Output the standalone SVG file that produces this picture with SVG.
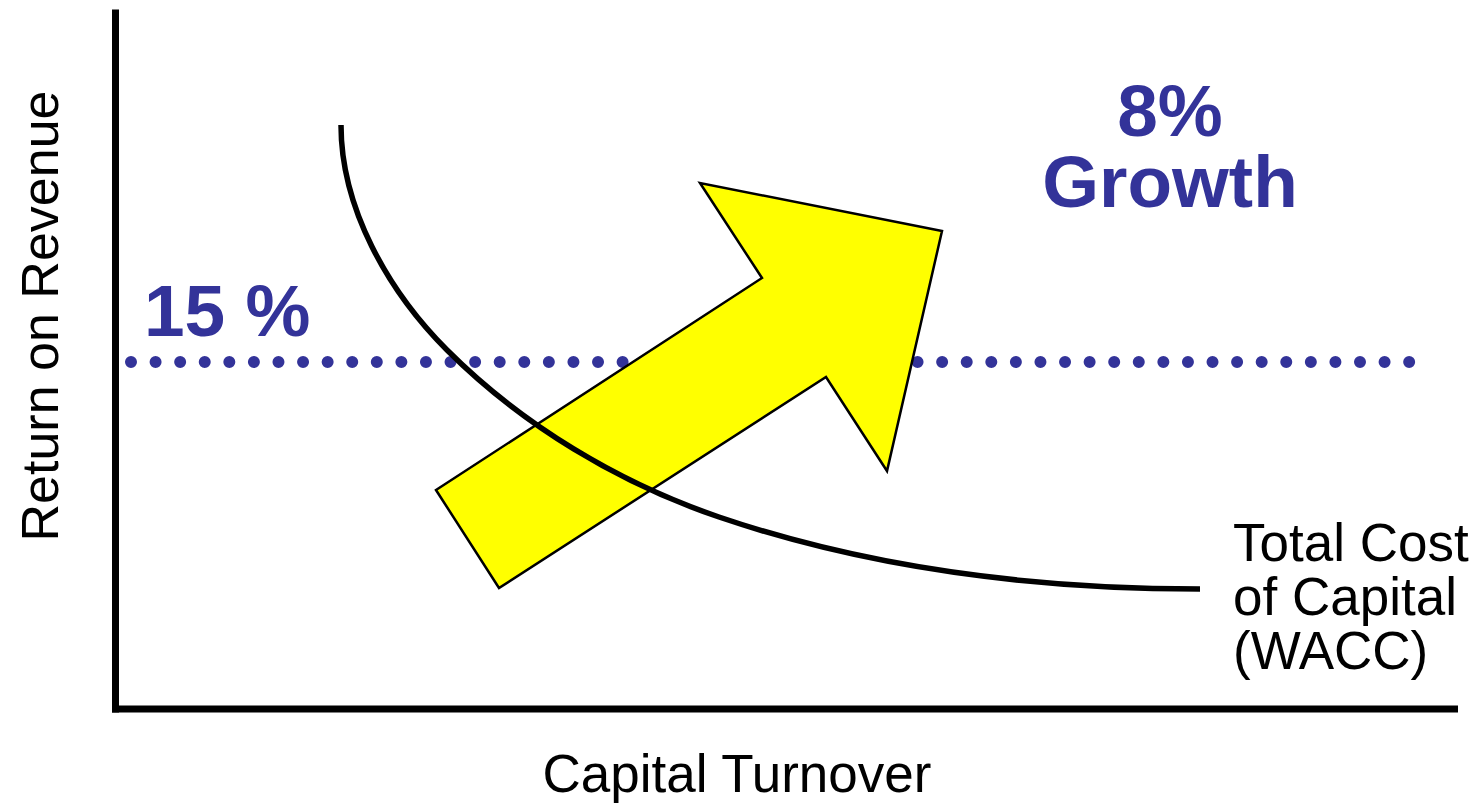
<svg xmlns="http://www.w3.org/2000/svg" width="1477" height="805" viewBox="0 0 1477 805">
  <style>
    .axis { stroke: #000; stroke-width: 7; fill: none; }
    .lbl { font-family: "Liberation Sans", Arial, sans-serif; fill: #000; font-size: 53px; }
    .big { font-family: "Liberation Sans", Arial, sans-serif; fill: #333399; font-weight: bold; font-size: 73px; }
  </style>
  <rect width="1477" height="805" fill="#fff"/>
  <g id="axes">
    <line class="axis" x1="115.5" y1="9.5" x2="115.5" y2="712.5"/>
    <line class="axis" x1="112" y1="709" x2="1458" y2="709"/>
  </g>
  <g id="threshold">
    <line x1="131" y1="362" x2="1409.2" y2="362" stroke="#333399" stroke-width="12" stroke-linecap="round" stroke-dasharray="0 24.58"/>
  </g>
  <g id="growth-arrow">
    <polygon points="436,490 762,278 700,183 942,231 887,471 826,377 499,588" fill="#ffff00" stroke="#000" stroke-width="2.5" stroke-linejoin="miter"/>
  </g>
  <g id="connectors">
    <path id="wacc-curve" d="M341,125 C341,208 388,291 447,350 C522,425 619,483 719,517 C872,569 1038,589 1200,589" fill="none" stroke="#000" stroke-width="5.5"/>
  </g>
  <g id="y-label">
    <text class="lbl" x="58" y="316" text-anchor="middle" transform="rotate(-90 58 316)" style="font-size:52px">Return on Revenue</text>
  </g>
  <g id="x-label">
    <text class="lbl" x="737" y="792" text-anchor="middle">Capital Turnover</text>
  </g>
  <g id="wacc-label">
    <text class="lbl" x="1233" y="561">Total Cost</text>
    <text class="lbl" x="1233" y="615">of Capital</text>
    <text class="lbl" x="1233" y="669">(WACC)</text>
  </g>
  <g id="rate-label">
    <text class="big" x="144" y="336">15 %</text>
  </g>
  <g id="growth-label">
    <text class="big" text-anchor="middle"><tspan x="1170" y="136">8%</tspan><tspan x="1170" y="207">Growth</tspan></text>
  </g>
</svg>
